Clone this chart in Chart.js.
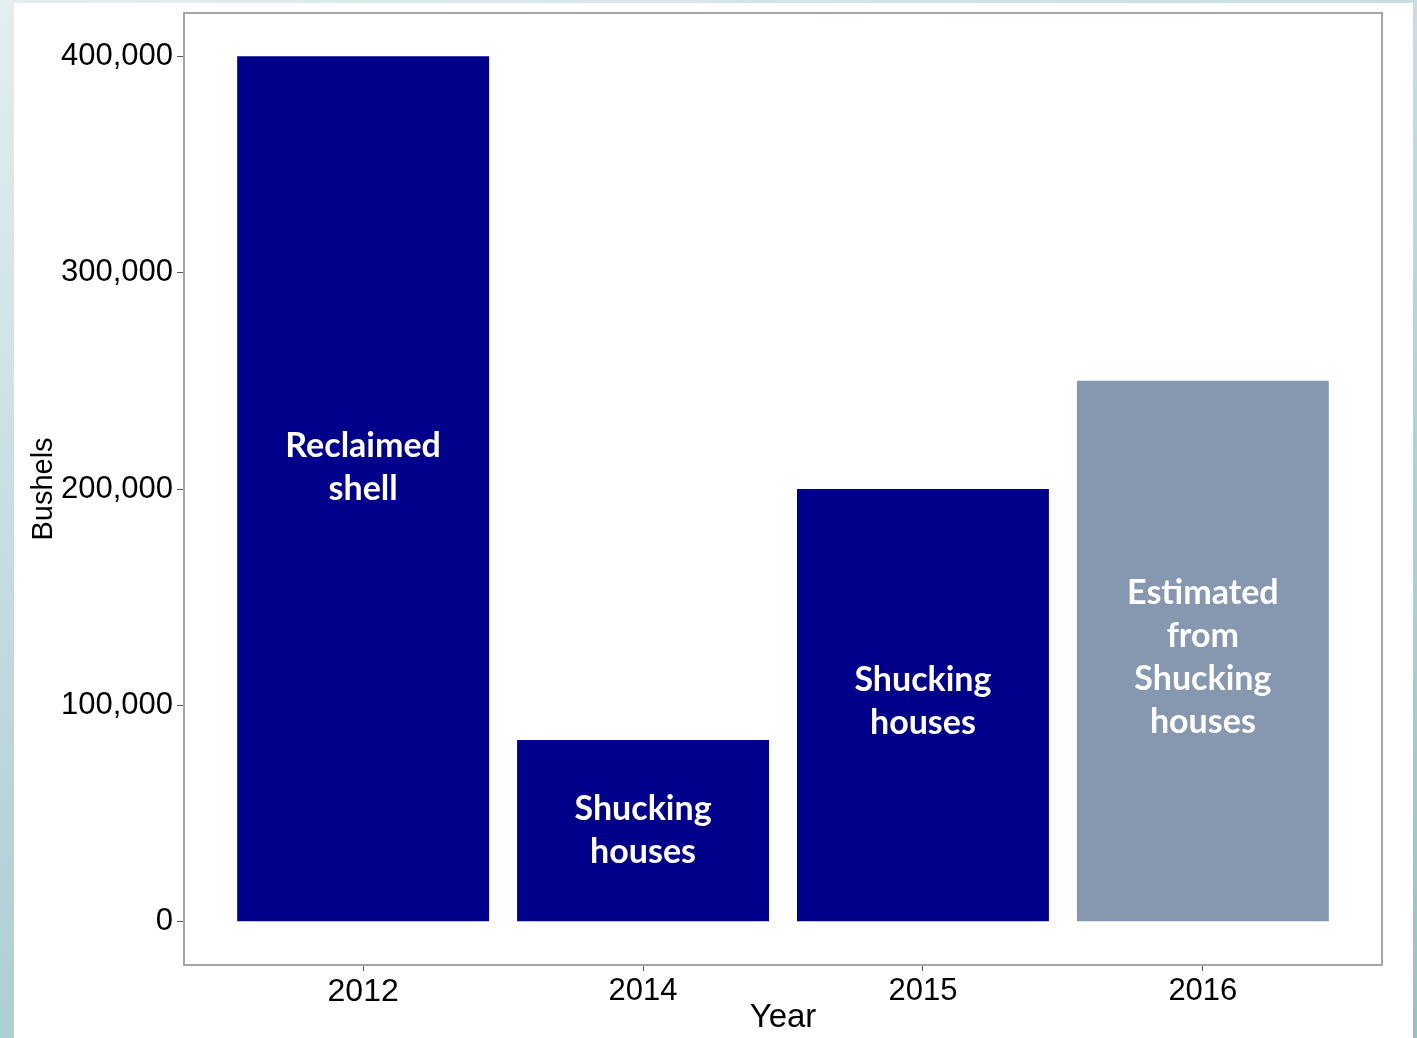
<!DOCTYPE html>
<html>
<head>
<meta charset="utf-8">
<script src="https://cdn.jsdelivr.net/npm/chart.js@4"></script>
<style>
  body { margin: 0; width: 1417px; height: 1038px; overflow: hidden;
         background: linear-gradient(160deg, #e4eef0 0%, #b9d6da 50%, #93c3c9 100%); }
  #wrap { position: absolute; left: 14px; top: 3px; width: 1399px; height: 1035px; background: #fff; }
</style>
</head>
<body>
<div id="wrap"><canvas id="shellChart"></canvas></div>
<script>
// data
const years = ['2012', '2014', '2015', '2016'];
const bushels = [400000, 84000, 200000, 250000];
const barColors = ['#00008b', '#00008b', '#00008b', '#8598b0'];
const barLabels = [
  ['Reclaimed', 'shell'],
  ['Shucking', 'houses'],
  ['Shucking', 'houses'],
  ['Estimated', 'from', 'Shucking', 'houses']
];
const labelAt = [210000, 42000, 102000, 122000];
const yTicks = [0, 100000, 200000, 300000, 400000];

// kotak panel
const panelBorder = {
  id: 'panelBorder',
  afterDraw(chart) {
    const a = chart.chartArea, ctx = chart.ctx;
    ctx.save();
    ctx.strokeStyle = '#a6a6a6';
    ctx.lineWidth = 2;
    ctx.strokeRect(a.left, a.top, a.right - a.left, a.bottom - a.top);
    ctx.restore();
  }
};

// teks di dalam batang
const barText = {
  id: 'barText',
  afterDatasetsDraw(chart) {
    const ctx = chart.ctx;
    const yScale = chart.scales.y;
    const lineH = 43;
    ctx.save();
    ctx.fillStyle = '#ffffff';
    ctx.font = 'bold 34px Lato';
    ctx.textAlign = 'center';
    ctx.textBaseline = 'middle';
    chart.getDatasetMeta(0).data.forEach((bar, i) => {
      const lines = barLabels[i];
      const cy = yScale.getPixelForValue(labelAt[i]);
      const start = cy - (lines.length - 1) * lineH / 2;
      lines.forEach((t, j) => ctx.fillText(t, bar.x, start + j * lineH));
    });
    ctx.restore();
  }
};

const ctx = document.getElementById('shellChart').getContext('2d');
new Chart(ctx, {
  type: 'bar',
  data: {
    datasets: [{
      data: bushels.map((v, i) => ({ x: i, y: v })),
      backgroundColor: barColors,
      barPercentage: 0.9,
      categoryPercentage: 1.0
    }]
  },
  options: {
    responsive: true,
    maintainAspectRatio: false,
    animation: false,
    layout: { padding: { top: 10, right: 31, left: 0, bottom: 0 } },
    plugins: { legend: { display: false }, tooltip: { enabled: false } },
    scales: {
      x: {
        type: 'linear',
        min: -0.64,
        max: 3.64,
        offset: false,
        afterBuildTicks: s => { s.ticks = years.map((y, i) => ({ value: i })); },
        afterFit: s => { s.height = 73; s.paddingLeft = 0; s.paddingRight = 0; },
        grid: { drawOnChartArea: false, offset: false, tickLength: 6, color: '#555' },
        border: { display: false },
        ticks: {
          callback: v => years[v],
          color: '#000',
          padding: 2,
          maxRotation: 0,
          font: c => ({ family: 'Liberation Sans', size: c.index === 0 ? 32 : 31 })
        },
        title: {
          display: true,
          text: 'Year',
          color: '#000',
          font: { family: 'Liberation Sans', size: 33 },
          padding: { top: -8, bottom: 0 }
        }
      },
      y: {
        min: -20000,
        max: 420000,
        afterBuildTicks: s => { s.ticks = yTicks.map(v => ({ value: v })); },
        afterFit: s => { s.width = 170; s.paddingTop = 0; s.paddingBottom = 0; },
        grid: { drawOnChartArea: false, tickLength: 7, color: '#555' },
        border: { display: false },
        ticks: {
          color: '#000',
          padding: 4,
          font: { family: 'Liberation Sans', size: 31 },
          callback: v => v.toLocaleString('en-US')
        },
        title: {
          display: true,
          text: 'Bushels',
          color: '#000',
          font: { family: 'Liberation Sans', size: 29 },
          padding: { top: 13, bottom: 0 }
        }
      }
    }
  },
  plugins: [panelBorder, barText]
});
</script>
</body>
</html>
